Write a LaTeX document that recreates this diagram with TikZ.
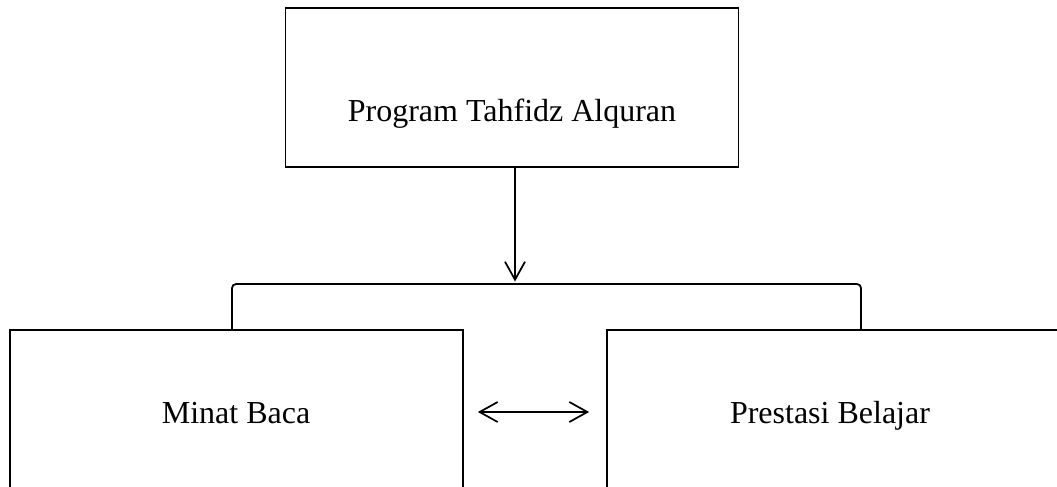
\documentclass[tikz,border=0pt]{standalone}
\usepackage{fontspec}
\setmainfont{Liberation Serif}
\usetikzlibrary{arrows.meta}
\begin{document}
\begin{tikzpicture}[x=0.75pt,y=-0.75pt,
  box/.style={draw,line width=1.3pt,minimum width=453*0.75pt,minimum height=159*0.75pt,inner sep=0pt},
  lbl/.style={anchor=base,inner sep=0pt,font=\fontsize{24}{28}\selectfont},
  link/.style={line width=1.3pt},
  barb/.tip={Straight Barb[length=13.5pt,width=15pt,line width=1.3pt]}]
\useasboundingbox (0,0) rectangle (1057,486);
\node[box] (top) at (512,87.5) {};
\node[box] (left) at (236.5,409.5) {};
\node[box] (right) at (833.5,409.5) {};
\node[lbl] (tt) at (512,121) {Program Tahfidz Alquran};
\node[lbl] (lt) at (236,423) {Minat Baca};
\node[lbl] (rt) at (830,423) {Prestasi Belajar};
\coordinate (bl) at (232,330);
\coordinate (br) at (861,330);
\coordinate (bm) at (515,284);
\coordinate (da) at (0,412);
\draw[link,rounded corners=3pt] (bl) -- (bl |- bm) -- (br |- bm) -- (br);
\draw[link,-barb] (top.south -| bm) -- ([yshift=2.5*0.75pt]bm);
\draw[link,barb-barb,shorten <=14*0.75pt,shorten >=17*0.75pt] (left.east |- da) -- (right.west |- da);
\end{tikzpicture}
\end{document}
